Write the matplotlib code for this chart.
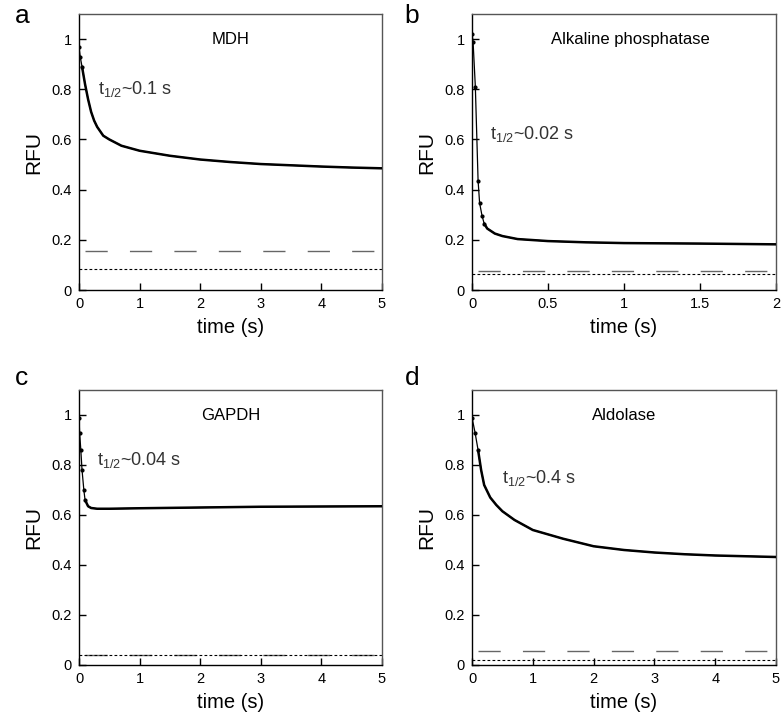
import numpy as np
import matplotlib
matplotlib.use("Agg")
import matplotlib.pyplot as plt

plt.rcParams['font.family'] = ['Liberation Sans', 'DejaVu Sans']
plt.rcParams['mathtext.fontset'] = 'custom'
plt.rcParams['mathtext.rm'] = 'Liberation Sans'
plt.rcParams['mathtext.it'] = 'Liberation Sans'

# values
t_mdh = [0.0, 0.02, 0.05, 0.1, 0.15, 0.2, 0.25, 0.3, 0.4, 0.5, 0.7, 1.0, 1.5, 2.0, 2.5, 3.0, 3.5, 4.0, 4.5, 5.0]
rfu_mdh = [0.97, 0.93, 0.89, 0.82, 0.76, 0.71, 0.675, 0.65, 0.615, 0.60, 0.575, 0.555, 0.535, 0.52, 0.51, 0.502, 0.497, 0.492, 0.488, 0.485]

t_ap = [0.0, 0.007, 0.022, 0.04, 0.05, 0.066, 0.08, 0.1, 0.15, 0.2, 0.3, 0.5, 0.75, 1.0, 1.5, 2.0]
rfu_ap = [1.02, 0.99, 0.81, 0.436, 0.347, 0.296, 0.265, 0.245, 0.225, 0.215, 0.203, 0.195, 0.19, 0.187, 0.185, 0.182]

t_gapdh = [0.0, 0.01, 0.03, 0.05, 0.08, 0.1, 0.15, 0.2, 0.3, 0.5, 1.0, 2.0, 3.0, 4.0, 5.0]
rfu_gapdh = [0.99, 0.93, 0.86, 0.78, 0.70, 0.66, 0.635, 0.628, 0.625, 0.625, 0.627, 0.63, 0.633, 0.634, 0.635]

t_ald = [0.0, 0.05, 0.1, 0.15, 0.2, 0.3, 0.4, 0.5, 0.7, 1.0, 1.5, 2.0, 2.5, 3.0, 3.5, 4.0, 4.5, 5.0]
rfu_ald = [0.99, 0.93, 0.86, 0.78, 0.72, 0.67, 0.64, 0.615, 0.58, 0.54, 0.505, 0.475, 0.46, 0.45, 0.443, 0.438, 0.435, 0.432]

# baselines: (long dash level, short dash level)
base_mdh = (0.155, 0.083)
base_ap = (0.075, 0.063)
base_gapdh = (0.042, 0.040)
base_ald = (0.055, 0.022)

names = ["MDH", "Alkaline phosphatase", "GAPDH", "Aldolase"]
halflives = ["0.1 s", "0.02 s", "0.04 s", "0.4 s"]
letters = ["a", "b", "c", "d"]
xmax = [5, 2, 5, 5]
# index from which the sampled trace gets dense (thick) in the reference
dense_from = [2, 6, 5, 2]

fig = plt.figure(figsize=(7.81, 7.15), dpi=100)
W, H = 781, 715
boxes = [(79, 14, 382, 290), (472, 14, 776, 290), (79, 390, 382, 665), (472, 390, 776, 665)]
series = [(t_mdh, rfu_mdh, base_mdh), (t_ap, rfu_ap, base_ap),
          (t_gapdh, rfu_gapdh, base_gapdh), (t_ald, rfu_ald, base_ald)]
# text anchors (data coords) for the half-life notes
notes = [(0.31, 0.80), (0.12, 0.62), (0.30, 0.82), (0.49, 0.75)]
letter_pos = [(22, 16), (412, 16), (22, 378), (412, 378)]

for i, (x0, y0, x1, y1) in enumerate(boxes):
    ax = fig.add_axes([x0 / W, 1 - y1 / H, (x1 - x0) / W, (y1 - y0) / H])
    t, r, (lvl_long, lvl_short) = series[i]
    xm = xmax[i]
    k = dense_from[i]

    ax.plot(t, r, color='black', lw=0.9, zorder=3)
    ax.plot(t[:k + 1], r[:k + 1], 'o', color='black', ms=2.0, zorder=4)
    ax.plot(t[k:], r[k:], color='black', lw=1.8, solid_capstyle='round', zorder=4)
    ax.plot([0.02 * xm, xm], [lvl_long, lvl_long], color='#666666', lw=1.0,
            dashes=(16, 16))
    ax.plot([0, xm], [lvl_short, lvl_short], color='black', lw=0.8,
            dashes=(2.5, 2))

    ax.set_xlim(0, xm)
    ax.set_ylim(0, 1.1)
    ax.set_yticks([0, 0.2, 0.4, 0.6, 0.8, 1.0])
    ax.set_yticklabels(["0", "0.2", "0.4", "0.6", "0.8", "1"])
    if xm == 2:
        ax.set_xticks([0, 0.5, 1, 1.5, 2])
        ax.set_xticklabels(["0", "0.5", "1", "1.5", "2"])
    else:
        ax.set_xticks(range(6))
    ax.tick_params(direction='in', length=5, width=1, labelsize=10.5, pad=5,
                   top=False, right=False)
    for s in ['top', 'right']:
        ax.spines[s].set_color('#555555')
    for s in ax.spines.values():
        s.set_linewidth(1.0)

    ax.set_xlabel("time (s)", fontsize=14.5, labelpad=5)
    ax.set_ylabel("RFU", fontsize=15, labelpad=6)

    ax.text(0.5 if i != 1 else 0.52, 1.0, names[i], transform=ax.get_yaxis_transform(),
            ha='center', va='center', fontsize=12)
    nx, ny = notes[i]
    ax.text(nx, ny, r'$\mathregular{t_{1/2}}$~' + halflives[i], ha='left', va='center',
            fontsize=13, color='#333333')

    lx, ly = letter_pos[i]
    fig.text(lx / W, 1 - ly / H, letters[i], fontsize=19, ha='center', va='center')

fig.savefig("out.png", dpi=100)
